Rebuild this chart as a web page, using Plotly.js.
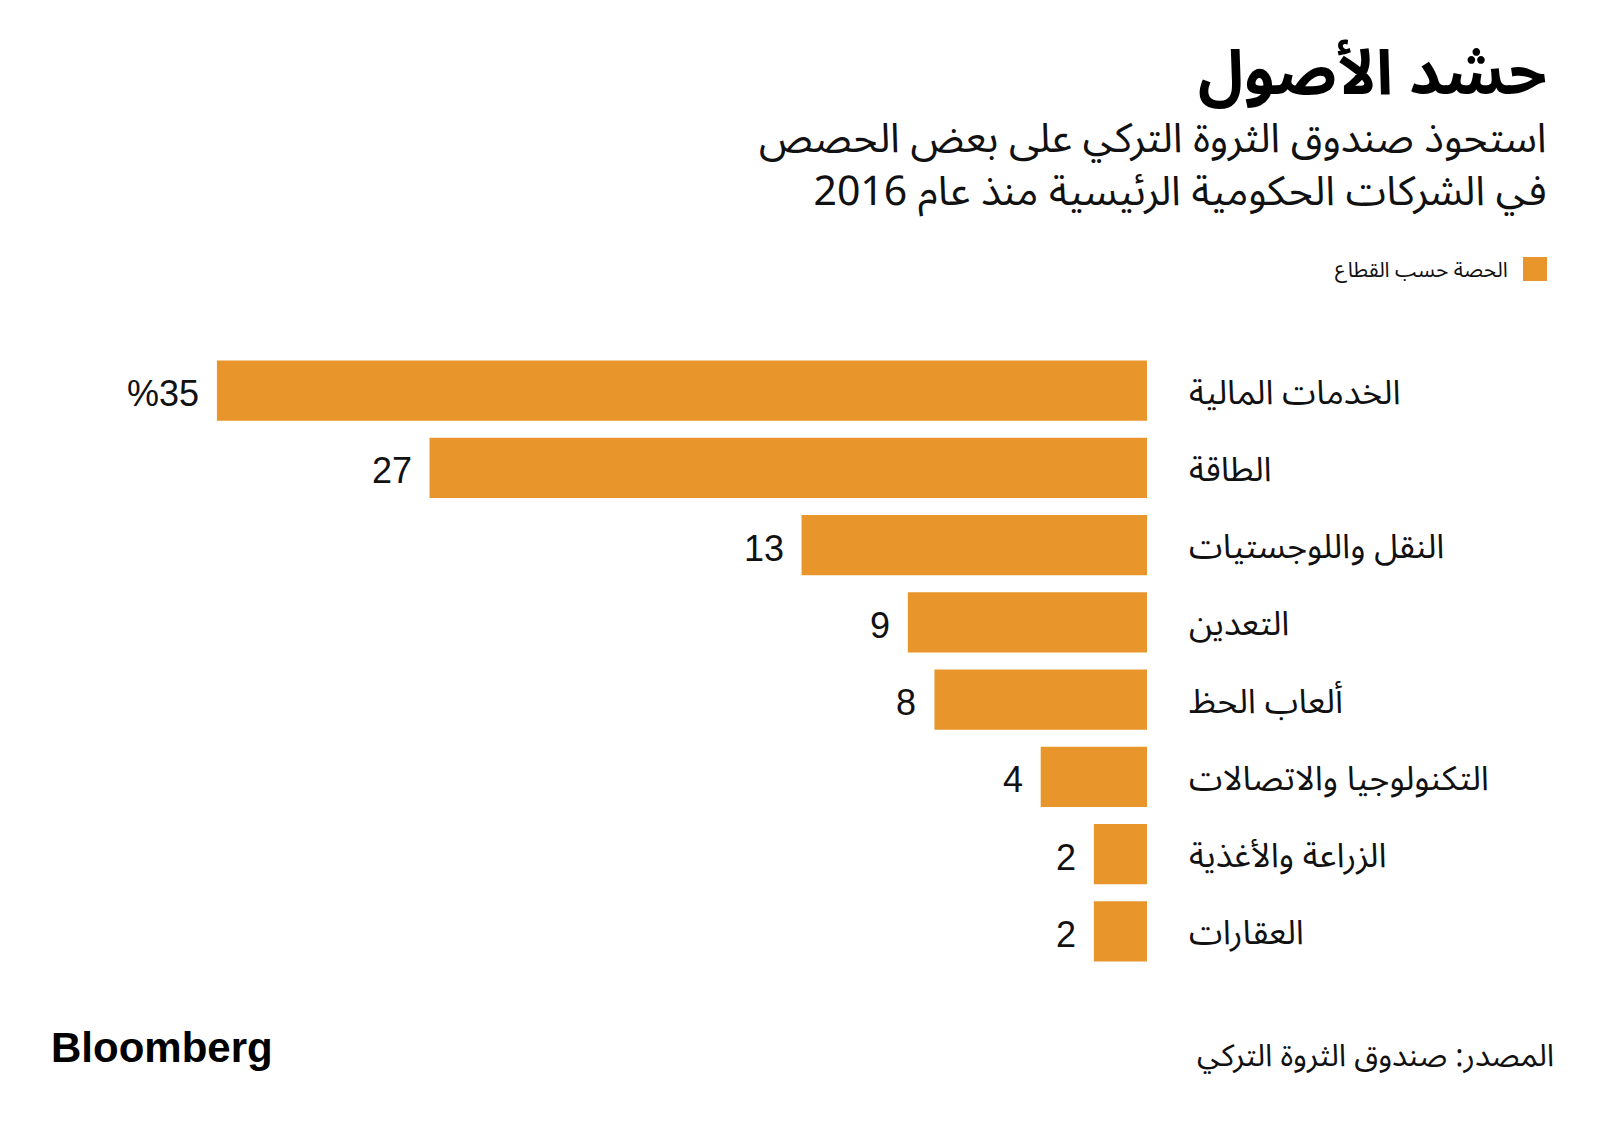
<!DOCTYPE html>
<html>
<head>
<meta charset="utf-8">
<script src="https://cdn.plot.ly/plotly-3.0.1.min.js"></script>
<style>
html,body{margin:0;padding:0;background:#fff;}
#chart{width:1600px;height:1125px;}
</style>
</head>
<body>
<div id="chart"></div>
<script>
// ---- data ----
const categories = [
  "الخدمات المالية",
  "الطاقة",
  "النقل واللوجستيات",
  "التعدين",
  "ألعاب الحظ",
  "التكنولوجيا والاتصالات",
  "الزراعة والأغذية",
  "العقارات"
];
const shares = [35, 27, 13, 9, 8, 4, 2, 2];
const valueLabels = ["%35", "27", "13", "9", "8", "4", "2", "2"];

const titleText = "حشد الأصول";
const subtitleLines = [
  "استحوذ صندوق الثروة التركي على بعض الحصص",
  "في الشركات الحكومية الرئيسية منذ عام 2016"
];
const legendText = "الحصة حسب القطاع";
const sourceText = "المصدر: صندوق الثروة التركي";
const brandText = "Bloomberg";

// ---- layout geometry ----
const W = 1600, H = 1125;
const L = 100, R = 453, T = 352, B = 155;
const PW = W - L - R, PH = H - T - B;
const px = v => (v - L) / PW;
const py = v => (H - B - v) / PH;

const orange = "#E8962B";
const arabicFont = "'Noto Sans Arabic UI', 'Noto Sans Arabic', 'DejaVu Sans', sans-serif";
const numFont = "'Liberation Sans', Arial, sans-serif";

const trace = {
  type: "bar",
  orientation: "h",
  x: shares,
  y: categories,
  marker: {color: orange},
  hoverinfo: "skip"
};

const annotations = [];
categories.forEach((c, i) => {
  annotations.push({
    xref: "paper", yref: "y", x: 1, y: c, xshift: 40,
    xanchor: "left", yanchor: "middle", showarrow: false,
    text: c, font: {family: arabicFont, size: 34, color: "#111"}
  });
  annotations.push({
    xref: "x", yref: "y", x: shares[i], y: c, xshift: -16, yshift: -3,
    xanchor: "right", yanchor: "middle", showarrow: false,
    text: valueLabels[i], font: {family: numFont, size: 36, color: "#111"}
  });
});
annotations.push({
  xref: "paper", yref: "paper", x: px(1549), y: py(70),
  xanchor: "right", yanchor: "middle", showarrow: false,
  text: "<b>" + titleText + "</b>", font: {family: arabicFont, size: 62, color: "#000"}
});
annotations.push({
  xref: "paper", yref: "paper", x: px(1549), y: py(163),
  xanchor: "right", yanchor: "middle", align: "right", showarrow: false,
  text: subtitleLines.join("<br>"), font: {family: arabicFont, size: 41, color: "#111"}
});
annotations.push({
  xref: "paper", yref: "paper", x: px(1510), y: py(269),
  xanchor: "right", yanchor: "middle", showarrow: false,
  text: legendText, font: {family: arabicFont, size: 21, color: "#111"}
});
annotations.push({
  xref: "paper", yref: "paper", x: px(1556), y: py(1054),
  xanchor: "right", yanchor: "middle", showarrow: false,
  text: sourceText, font: {family: arabicFont, size: 31, color: "#111"}
});
annotations.push({
  xref: "paper", yref: "paper", x: px(49), y: py(1047),
  xanchor: "left", yanchor: "middle", showarrow: false,
  text: "<b>" + brandText + "</b>", font: {family: numFont, size: 42, color: "#000"}
});

const layout = {
  width: W, height: H,
  margin: {l: L, r: R, t: T, b: B, pad: 0},
  paper_bgcolor: "#fff", plot_bgcolor: "#fff",
  showlegend: false,
  bargap: 0.223,
  xaxis: {range: [39.4, 0], visible: false, fixedrange: true},
  yaxis: {autorange: "reversed", visible: false, fixedrange: true},
  annotations: annotations,
  shapes: [{
    type: "rect", xref: "paper", yref: "paper",
    x0: px(1523), x1: px(1547), y0: py(257), y1: py(281),
    fillcolor: orange, line: {width: 0}
  }]
};

Plotly.newPlot("chart", [trace], layout, {displayModeBar: false, staticPlot: true});
</script>
</body>
</html>
